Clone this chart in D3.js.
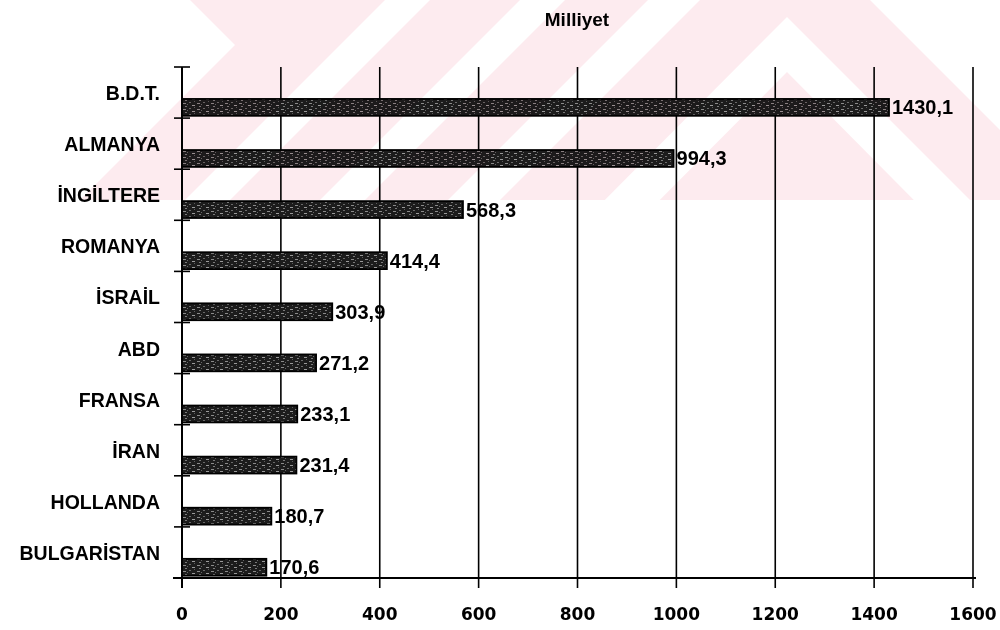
<!DOCTYPE html>
<html>
<head>
<meta charset="utf-8">
<script src="https://cdn.jsdelivr.net/npm/d3@7"></script>
<style>
  html, body { margin: 0; padding: 0; background: #fff; }
  svg { display: block; }
  text { font-family: "Liberation Sans", Arial, sans-serif; font-weight: bold; fill: #000; }
</style>
</head>
<body>
<svg id="chart" width="1000" height="630"></svg>
<script>
// Countries, in the order they are listed top to bottom
const categories = ["B.D.T.", "ALMANYA", "İNGİLTERE", "ROMANYA", "İSRAİL", "ABD", "FRANSA", "İRAN", "HOLLANDA", "BULGARİSTAN"];
// Values for each country
const values = [1430.1, 994.3, 568.3, 414.4, 303.9, 271.2, 233.1, 231.4, 180.7, 170.6];
// Horizontal axis ticks
const xTicks = [0, 200, 400, 600, 800, 1000, 1200, 1400, 1600];
const chartTitle = "Milliyet";

const W = 1000, H = 630;
const plot = { left: 182, right: 973, top: 67, bottom: 578 };

const svg = d3.select("#chart");
const defs = svg.append("defs");

// Dark speckled fill used inside the bars
const pat = defs.append("pattern")
  .attr("id", "barTexture")
  .attr("patternUnits", "userSpaceOnUse")
  .attr("width", 14).attr("height", 6);
pat.append("rect").attr("width", 14).attr("height", 6).attr("fill", "#1c1c1c");
[[1, 1, 3, 1, "#8a8a8a"], [7, 0, 2, 1, "#6a6a6a"], [10, 3, 3, 1, "#9a9a9a"],
 [3, 4, 2, 1, "#7a7a7a"], [12, 5, 1, 1, "#5a5a5a"], [5, 2, 1, 1, "#666"]]
  .forEach(([x, y, w, h, c]) => pat.append("rect").attr("x", x).attr("y", y)
    .attr("width", w).attr("height", h).attr("fill", c));

const x = d3.scaleLinear().domain([0, 1600]).range([plot.left, plot.right]);
const y = d3.scaleBand().domain(categories).range([plot.top, plot.bottom]).paddingInner(0).paddingOuter(0);
const bw = y.bandwidth();

const fmt = d3.formatLocale({ decimal: ",", thousands: ".", grouping: [3], currency: ["", ""] }).format(".1f");

// Title
svg.append("text")
  .attr("x", 577).attr("y", 26)
  .attr("text-anchor", "middle")
  .style("font-size", "19px")
  .text(chartTitle);

// Vertical grid lines (extend a little below the axis as tick marks)
svg.append("g").selectAll("line")
  .data(xTicks)
  .join("line")
  .attr("x1", d => x(d)).attr("x2", d => x(d))
  .attr("y1", plot.top).attr("y2", plot.bottom + 10)
  .attr("stroke", "#000")
  .attr("stroke-width", d => d === 0 ? 2 : 1.6);

// Horizontal axis line
svg.append("line")
  .attr("x1", plot.left - 9).attr("x2", plot.right + 3)
  .attr("y1", plot.bottom).attr("y2", plot.bottom)
  .attr("stroke", "#000").attr("stroke-width", 2);

// Category tick marks on the vertical axis
const boundaries = d3.range(categories.length).map(i => y(categories[i]));
svg.append("g").selectAll("line")
  .data(boundaries)
  .join("line")
  .attr("x1", plot.left - 8).attr("x2", plot.left + 8)
  .attr("y1", d => d).attr("y2", d => d)
  .attr("stroke", "#000").attr("stroke-width", 1.6);

// Bars
const barTop = bw * 0.625, barH = bw * 0.33;
svg.append("g").selectAll("rect")
  .data(categories)
  .join("rect")
  .attr("x", x(0))
  .attr("y", d => y(d) + barTop)
  .attr("width", (d, i) => x(values[i]) - x(0))
  .attr("height", barH)
  .attr("fill", "url(#barTexture)")
  .attr("stroke", "#000")
  .attr("stroke-width", 1.8);

// Value labels at the end of each bar
svg.append("g").selectAll("text")
  .data(categories)
  .join("text")
  .attr("x", (d, i) => x(values[i]) + 3)
  .attr("y", d => y(d) + barTop + barH / 2 + 7)
  .style("font-size", "20px")
  .text((d, i) => fmt(values[i]));

// Category labels
svg.append("g").selectAll("text")
  .data(categories)
  .join("text")
  .attr("x", 160)
  .attr("y", d => y(d) + 33)
  .attr("text-anchor", "end")
  .style("font-size", "19.5px")
  .text(d => d);

// Horizontal axis tick labels
svg.append("g").selectAll("text")
  .data(xTicks)
  .join("text")
  .attr("x", d => x(d))
  .attr("y", 620)
  .attr("text-anchor", "middle")
  .style("font-family", "'DejaVu Sans', sans-serif")
  .style("font-size", "17px")
  .text(d => d);

// Faint pink chevron background mark across the upper part of the page
const markBands = [
  [[0, 0], [190, 0], [235, 45], [80, 200], [0, 200]],
  [[385, 0], [430, 0], [230, 200], [185, 200]],
  [[520, 0], [565, 0], [365, 200], [320, 200]],
  [[648, 0], [700, 0], [500, 200], [448, 200]],
  [[787, 17], [1000, 230], [1000, 287], [787, 72], [615, 245], [560, 245]],
  [[870, 0], [1000, 0], [1000, 130]]
];
const mark = svg.append("g").style("mix-blend-mode", "multiply");
const clip = defs.append("clipPath").attr("id", "markClip");
clip.append("rect").attr("width", W).attr("height", 200);
const mg = mark.append("g").attr("clip-path", "url(#markClip)");
// pink field with white gaps cut out via a mask
const mask = defs.append("mask").attr("id", "markMask");
mask.append("rect").attr("width", W).attr("height", 200).attr("fill", "#fff");
mask.selectAll("polygon").data(markBands).join("polygon")
  .attr("points", d => d.map(p => p.join(",")).join(" "))
  .attr("fill", "#000");
mg.append("rect").attr("width", W).attr("height", 200)
  .attr("fill", "#fdebef")
  .attr("mask", "url(#markMask)");
</script>
</body>
</html>
